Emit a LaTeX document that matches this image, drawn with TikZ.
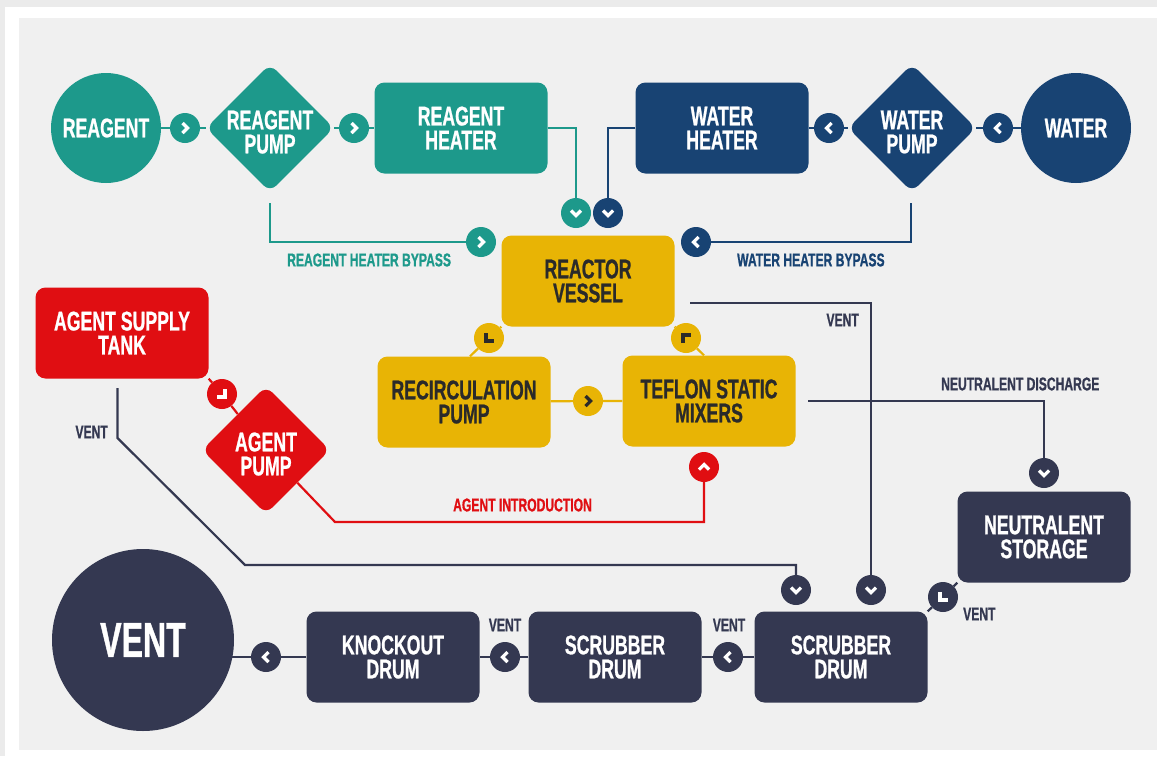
\documentclass[tikz,border=0pt]{standalone}
\usepackage{fontspec}
\setmainfont{Liberation Sans}[FakeStretch=0.655, BoldFeatures={FakeBold=0.8}]
\usetikzlibrary{shapes.geometric}
\definecolor{cTeal}{HTML}{1D998B}
\definecolor{cNavy}{HTML}{184373}
\definecolor{cYel}{HTML}{E8B405}
\definecolor{cRed}{HTML}{E00E12}
\definecolor{cDark}{HTML}{343851}
\definecolor{cInk}{HTML}{2A2A2A}
\definecolor{cPanel}{HTML}{F0F0F0}
\definecolor{cFrame}{HTML}{EBEBEB}
\pgfdeclarelayer{back}
\pgfdeclarelayer{bg}
\pgfsetlayers{back,bg,main}
\tikzset{
  ic/.store in=\iconcol, ic=white,
  chv/.style={draw=\iconcol, line width=3.2pt, line cap=butt, line join=miter},
  box/.style={rectangle, rounded corners=10pt, minimum width=173pt, minimum height=91pt,
    align=center, inner sep=0pt, text=white, font=\bfseries\fontsize{27}{24}\selectfont},
  circ/.style={circle, minimum size=110pt, inner sep=0pt, text=white,
    font=\bfseries\fontsize{27}{24}\selectfont},
  dia/.style={diamond, aspect=1, rounded corners=9pt, minimum width=128pt, minimum height=128pt, inner sep=0pt},
  dtext/.style={align=center, inner sep=0pt, yshift=-4pt, text=white, font=\bfseries\fontsize{27}{24}\selectfont},
  sc/.style={circle, minimum size=30pt, inner sep=0pt, fill=#1},
  chevR/.style={sc=#1, path picture={\draw[chv] ([shift={(-2.5,-5)}]path picture bounding box.center) -- ++(5,5) -- ++(-5,5);}},
  chevL/.style={sc=#1, path picture={\draw[chv] ([shift={(2.5,-5)}]path picture bounding box.center) -- ++(-5,5) -- ++(5,5);}},
  chevD/.style={sc=#1, path picture={\draw[chv] ([shift={(-5,-2.5)}]path picture bounding box.center) -- ++(5,5) -- ++(5,-5);}},
  chevU/.style={sc=#1, path picture={\draw[chv] ([shift={(-5,2.5)}]path picture bounding box.center) -- ++(5,-5) -- ++(5,5);}},
  cornDR/.style={sc=#1, path picture={\draw[chv] ([shift={(3,-5)}]path picture bounding box.center) -- ++(0,8) -- ++(-8,0);}},
  cornDL/.style={sc=#1, path picture={\draw[chv] ([shift={(-3,-5)}]path picture bounding box.center) -- ++(0,8) -- ++(8,0);}},
  cornUL/.style={sc=#1, path picture={\draw[chv] ([shift={(-3,5)}]path picture bounding box.center) -- ++(0,-8) -- ++(8,0);}},
  lab/.style={inner sep=0pt, font=\bfseries\fontsize{18.5}{18.5}\selectfont},
  wire/.style={line width=2.2pt},
}
\begin{document}
\begin{tikzpicture}[x=1pt,y=-1pt]
\useasboundingbox (0,0) rectangle (1157,756);
\begin{pgfonlayer}{back}
\fill[white] (0,0) rectangle (1157,756);
\fill[cFrame] (0,0) rectangle (1157,7);
\fill[cFrame] (0,0) rectangle (4.6,756);
\fill[cPanel] (19,18) rectangle (1157,750);
\end{pgfonlayer}

% top row
\node[circ, fill=cTeal] (reagent) at (106,128) {REAGENT};
\node[chevR=cTeal] (c1) at (185,128) {};
\node[dia, fill=cTeal, label={[dtext]center:{REAGENT\\PUMP}}] (rpump) at (270,128) {};
\node[chevR=cTeal] (c2) at (354,128) {};
\node[box, fill=cTeal] (rheater) at (461,128) {REAGENT\\HEATER};
\node[chevD=cTeal] (c3) at (576,213) {};
\node[chevD=cNavy] (c4) at (608,213) {};
\node[box, fill=cNavy] (wheater) at (722,128) {WATER\\HEATER};
\node[chevL=cNavy] (c5) at (829,128) {};
\node[dia, fill=cNavy, label={[dtext]center:{WATER\\PUMP}}] (wpump) at (912,128) {};
\node[chevL=cNavy] (c6) at (998,128) {};
\node[circ, fill=cNavy] (water) at (1076,128) {WATER};
\node[chevR=cTeal] (c7) at (481,242) {};
\node[chevL=cNavy] (c8) at (696,242) {};
\coordinate (rb) at (270,203);
\coordinate (wb) at (911,203);

% middle
\node[box, fill=cYel, text=cInk] (reactor) at (588,281) {REACTOR\\VESSEL};
\node[box, fill=cRed] (tank) at (122,333) {AGENT SUPPLY\\TANK};
\node[box, fill=cYel, text=cInk] (recirc) at (464,402) {RECIRCULATION\\PUMP};
\node[box, fill=cYel, text=cInk] (teflon) at (709,401) {TEFLON STATIC\\MIXERS};
\node[chevR=cYel, ic=cInk] (c9) at (588,401) {};
\node[cornUL=cYel, ic=cInk] (c10) at (686,338) {};
\node[cornDL=cYel, ic=cInk] (c11) at (489,338) {};
\node[cornDR=cRed] (c12) at (222,394) {};
\node[dia, fill=cRed, label={[dtext]center:{AGENT\\PUMP}}] (apump) at (266,450) {};
\node[chevU=cRed] (c13) at (704,467) {};
\coordinate (ai) at (335,522);

% right / bottom
\node[chevD=cDark] (c14) at (1044,473) {};
\node[box, fill=cDark] (storage) at (1044,537) {NEUTRALENT\\STORAGE};
\node[cornDL=cDark] (c15) at (943,597) {};
\node[chevD=cDark] (c16) at (796,590) {};
\node[chevD=cDark] (c17) at (871,590) {};
\node[box, fill=cDark] (scrub1) at (841,657) {SCRUBBER\\DRUM};
\node[chevL=cDark] (c18) at (728,657) {};
\node[box, fill=cDark] (scrub2) at (615,657) {SCRUBBER\\DRUM};
\node[chevL=cDark] (c19) at (505,657) {};
\node[box, fill=cDark] (knock) at (393,657) {KNOCKOUT\\DRUM};
\node[chevL=cDark] (c20) at (266,657) {};
\node[circle, fill=cDark, minimum size=182pt, inner sep=0pt, text=white,
  font=\bfseries\fontsize{49}{49}\selectfont] (vent) at (143,640) {VENT};
\coordinate (vt1) at (117.5,388);
\coordinate (vt2) at (117.5,438);
\coordinate (vt3) at (245,565);
\coordinate (vr) at (690,303);
\coordinate (nd) at (808,401);

% labels
\node[lab, text=cTeal, anchor=west] at (287,260) {REAGENT HEATER BYPASS};
\node[lab, text=cNavy, anchor=west] at (737,260) {WATER HEATER BYPASS};
\node[lab, text=cDark, anchor=east] at (859,320) {VENT};
\node[lab, text=cDark, anchor=east] at (108,432) {VENT};
\node[lab, text=cRed, anchor=west] at (453,505) {AGENT INTRODUCTION};
\node[lab, text=cDark, anchor=west] at (941,384) {NEUTRALENT DISCHARGE};
\node[lab, text=cDark] at (505,625) {VENT};
\node[lab, text=cDark] at (729,625) {VENT};
\node[lab, text=cDark, anchor=west] at (963,614) {VENT};

\begin{pgfonlayer}{bg}
\draw[wire, cTeal] (reagent) -- (c1) -- (rpump) -- (c2) -- (rheater);
\draw[wire, cTeal] (rheater) -| (c3);
\draw[wire, cTeal] (rb) |- (c7);
\draw[wire, cNavy] (water) -- (c6) -- (wpump) -- (c5) -- (wheater);
\draw[wire, cNavy] (wheater) -| (c4);
\draw[wire, cNavy] (wb) |- (c8);
\draw[wire, cYel] (reactor.south west) -- (c11) -- ([xshift=6pt]recirc.north);
\draw[wire, cYel] (reactor.south east) -- (c10) -- ([xshift=-5pt]teflon.north);
\draw[wire, cYel] (recirc) -- (c9) -- (teflon);
\draw[wire, cRed] (tank.south east) -- (c12) -- (apump);
\draw[wire, cRed] (c13) |- (ai) -- (apump);
\draw[wire, cDark] (vt1) -- (vt2) -- (vt3) -| (c16);
\draw[wire, cDark] (vr) -| (c17);
\draw[wire, cDark] (nd) -| (c14);
\draw[wire, cDark] (storage.south west) -- (c15) -- (scrub1.north east);
\draw[wire, cDark] (scrub1) -- (c18) -- (scrub2) -- (c19) -- (knock) -- (c20) -- (c20 -| vent);
\end{pgfonlayer}
\end{tikzpicture}
\end{document}
